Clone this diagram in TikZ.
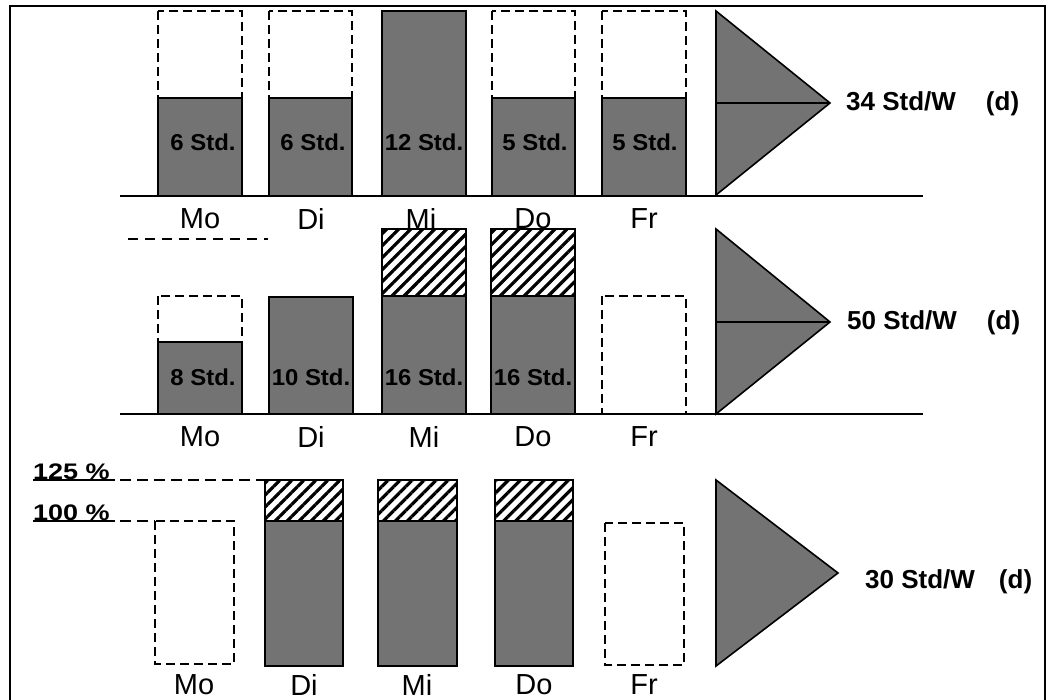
\documentclass[tikz,border=0pt]{standalone}
\usepackage{fontspec}
\setmainfont{Liberation Sans}
\usetikzlibrary{patterns.meta}
\begin{document}
\begin{tikzpicture}[x=1pt,y=-1pt,
  frame/.style={line width=2.8pt},
  base/.style={line width=2.2pt},
  fillbar/.style={draw=black,line width=2.2pt,fill=black!55},
  hatchbar/.style={draw=black,line width=2.2pt,pattern={Lines[angle=45,distance=8.5pt,line width=3.2pt]}},
  emptybar/.style={draw=black,line width=2pt,dash pattern=on 9pt off 5pt},
  refline/.style={line width=1.6pt,dash pattern=on 11pt off 6pt},
  tri/.style={draw=black,line width=1.6pt,fill=black!55},
  daylab/.style={font=\fontsize{29}{29}\selectfont,inner sep=0pt},
  stdlab/.style={font=\fontsize{23}{23}\selectfont\bfseries,inner sep=0pt},
  pctlab/.style={font=\fontsize{22.5}{22.5}\selectfont\bfseries,inner sep=0pt,anchor=base west},
  sumlab/.style={font=\fontsize{26}{26}\selectfont\bfseries,inner sep=0pt,anchor=west}]
\useasboundingbox (0,0) rectangle (1049,700);
% frame
\draw[frame] (10,700) -- (10,6) -- (1045,6) -- (1045,700);

% ===== top row =====
\draw[base] (120,196) -- (923,196);
\draw[emptybar] (158,11) rectangle (242,196);
\draw[fillbar] (158,98) rectangle (242,196);
\draw[emptybar] (269,11) rectangle (352,196);
\draw[fillbar] (269,98) rectangle (352,196);
\draw[fillbar] (382,11) rectangle (466,196);
\draw[emptybar] (492,11) rectangle (575,196);
\draw[fillbar] (492,98) rectangle (575,196);
\draw[emptybar] (602,11) rectangle (686,196);
\draw[fillbar] (602,98) rectangle (686,196);
\node[stdlab] (s1a) at (203,142) {\scalebox{1.04}[1]{6 Std.}};
\node[stdlab] (s1b) at (313,142) {\scalebox{1.04}[1]{6 Std.}};
\node[stdlab] (s1c) at (424,142) {\scalebox{1.04}[1]{12 Std.}};
\node[stdlab] (s1d) at (535,142) {\scalebox{1.04}[1]{5 Std.}};
\node[stdlab] (s1e) at (645,142) {\scalebox{1.04}[1]{5 Std.}};
\node[daylab] (d1a) at (200,219) {Mo};
\node[daylab] (d1b) at (311,219) {Di};
\node[daylab] (d1c) at (421,219) {Mi};
\node[daylab] (d1d) at (533,219) {Do};
\node[daylab] (d1e) at (644,219) {Fr};
\draw[tri] (716,11) -- (716,195) -- (830,103) -- cycle;
\draw[line width=1.6pt] (716,103) -- (830,103);
\node[sumlab] (w1) at (846,104) {34 Std/W\hspace{30pt}(d)};

% ===== middle row =====
\draw[line width=1.4pt,dash pattern=on 10pt off 7pt] (128,239) -- (268,239);
\draw[base] (120,414) -- (923,414);
\draw[emptybar] (158,296) rectangle (242,414);
\draw[fillbar] (158,342) rectangle (242,414);
\draw[fillbar] (269,297) rectangle (353,414);
\draw[hatchbar] (382,229) rectangle (466,296);
\draw[fillbar] (382,296) rectangle (466,414);
\draw[hatchbar] (491,229) rectangle (575,296);
\draw[fillbar] (491,296) rectangle (575,414);
\draw[emptybar] (602,296) rectangle (686,414);
\node[stdlab] (s2a) at (203,377) {\scalebox{1.04}[1]{8 Std.}};
\node[stdlab] (s2b) at (311,377) {\scalebox{1.04}[1]{10 Std.}};
\node[stdlab] (s2c) at (424,377) {\scalebox{1.04}[1]{16 Std.}};
\node[stdlab] (s2d) at (533,377) {\scalebox{1.04}[1]{16 Std.}};
\node[daylab] (d2a) at (200,437) {Mo};
\node[daylab] (d2b) at (311,437) {Di};
\node[daylab] (d2c) at (424,437) {Mi};
\node[daylab] (d2d) at (533,437) {Do};
\node[daylab] (d2e) at (644,437) {Fr};
\draw[tri] (716,229) -- (716,414) -- (830,322) -- cycle;
\draw[line width=1.6pt] (716,322) -- (830,322);
\node[sumlab] (w2) at (847,323) {50 Std/W\hspace{30pt}(d)};

% ===== bottom row =====
\node[pctlab] (p125) at (33,479) {\scalebox{1.2}[1]{125 \%}};
\node[pctlab] (p100) at (33,520) {\scalebox{1.2}[1]{100 \%}};
\draw[line width=1.8pt] (p125.base west) ++(0,1) -- ++(82,0);
\draw[line width=1.8pt] (p100.base west) ++(0,1) -- ++(82,0);
\draw[refline] (120,480) -- (265,480);
\draw[refline] (120,521) -- (155,521);
\draw[emptybar] (155,521) rectangle (234,664);
\draw[hatchbar] (265,480) rectangle (343,521);
\draw[fillbar] (265,521) rectangle (343,666);
\draw[hatchbar] (378,480) rectangle (457,521);
\draw[fillbar] (378,521) rectangle (457,666);
\draw[hatchbar] (495,480) rectangle (573,521);
\draw[fillbar] (495,521) rectangle (573,666);
\draw[emptybar] (605,523) rectangle (684,665);
\node[daylab] (d3a) at (194,685) {Mo};
\node[daylab] (d3b) at (304,685) {Di};
\node[daylab] (d3c) at (417,685) {Mi};
\node[daylab] (d3d) at (534,685) {Do};
\node[daylab] (d3e) at (644,685) {Fr};
\draw[tri] (716,480) -- (716,666) -- (838,573) -- cycle;
\node[sumlab] (w3) at (865,582) {30 Std/W\hspace{24pt}(d)};
\end{tikzpicture}
\end{document}
